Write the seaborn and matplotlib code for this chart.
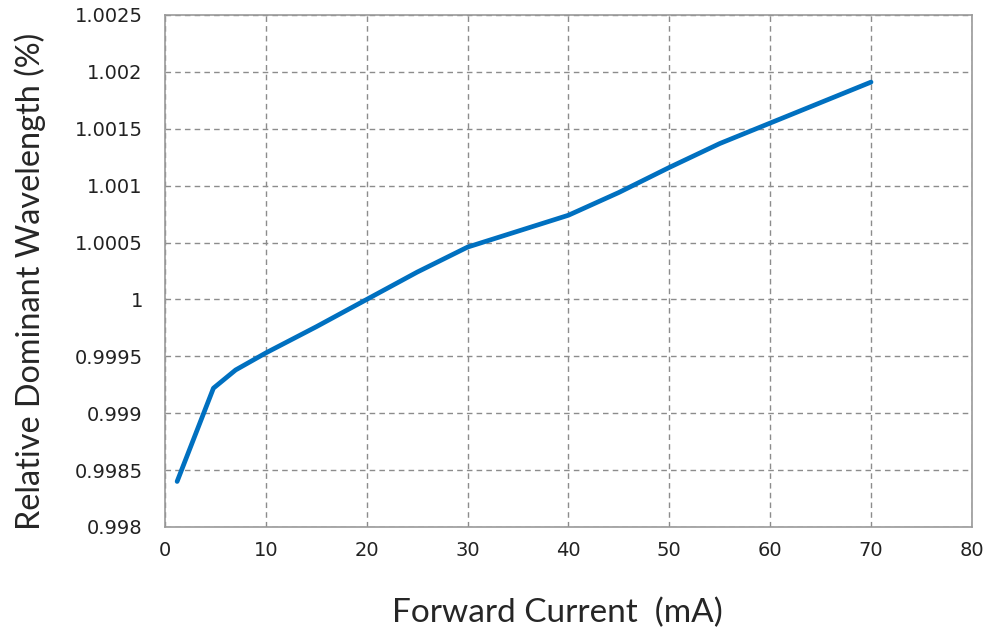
import pandas as pd
import matplotlib
matplotlib.use('Agg')
import matplotlib.pyplot as plt
import seaborn as sns

# values
current = [1.2, 4.8, 7, 10, 15, 20, 25, 30, 35, 40, 45, 50, 55, 60, 65, 70]
wavelength = [0.9984, 0.99922, 0.99938, 0.99953, 0.99976, 1.0, 1.00024, 1.00046,
              1.0006, 1.00074, 1.00094, 1.00116, 1.00137, 1.00155, 1.00173, 1.00191]
xticks = [0, 10, 20, 30, 40, 50, 60, 70, 80]
yticks = [0.998, 0.9985, 0.999, 0.9995, 1.0, 1.0005, 1.001, 1.0015, 1.002, 1.0025]
ytick_labels = ['0.998', '0.9985', '0.999', '0.9995', '1', '1.0005', '1.001', '1.0015', '1.002', '1.0025']

df = pd.DataFrame({'current': current, 'wavelength': wavelength})

sns.set_style('white')
plt.rcParams['font.family'] = ['DejaVu Sans']

fig = plt.figure(figsize=(9.84, 6.37), dpi=100)
ax = fig.add_axes([0.1677, 0.1727, 0.82, 0.8038])

sns.lineplot(data=df, x='current', y='wavelength', ax=ax, color='#0070C0', linewidth=3.4)

ax.set_xlim(0, 80)
ax.set_ylim(0.998, 1.0025)
ax.set_xticks(xticks)
ax.set_yticks(yticks)
ax.set_yticklabels(ytick_labels)
ax.tick_params(axis='both', labelsize=14, colors='#222222', length=4, direction='out', color='#999999')
ax.tick_params(axis='y', pad=12)
ax.tick_params(axis='x', pad=6)
ax.grid(True, linestyle=(0, (4, 3)), color='#8c8c8c', linewidth=1)
for s in ax.spines.values():
    s.set_color('#999999')
    s.set_linewidth(1.2)

ax.set_xlabel('Forward Current  (mA)', fontsize=24, family=['Lato', 'DejaVu Sans'])
ax.set_ylabel('Relative Dominant Wavelength (%)', fontsize=23.3, family=['Lato', 'DejaVu Sans'])
ax.xaxis.set_label_coords(0.486, -0.138)
ax.yaxis.set_label_coords(-0.148, 0.48)

fig.savefig('out.png', dpi=100)
